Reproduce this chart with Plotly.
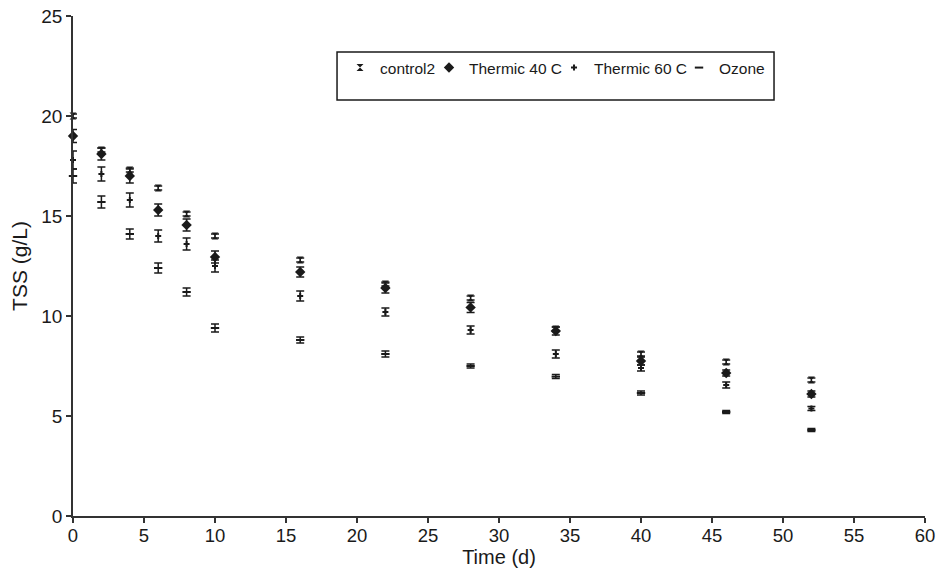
import plotly.graph_objects as go

# Sampling days
days = [0, 2, 4, 6, 8, 10, 16, 22, 28, 34, 40, 46, 52]

# Total suspended solids (g/L) per treatment, with standard deviations
control2 = [20.0, 18.3, 17.3, 16.4, 15.1, 14.0, 12.8, 11.6, 10.9, 9.35, 8.1, 7.7, 6.8]
control2_sd = [0.1, 0.1, 0.1, 0.1, 0.1, 0.1, 0.1, 0.1, 0.1, 0.1, 0.1, 0.1, 0.1]

thermic40 = [19.0, 18.1, 17.0, 15.3, 14.55, 12.95, 12.2, 11.4, 10.43, 9.25, 7.75, 7.15, 6.1]
thermic40_sd = [0.33, 0.3, 0.35, 0.3, 0.3, 0.3, 0.25, 0.25, 0.25, 0.2, 0.2, 0.15, 0.15]

thermic60 = [17.8, 17.1, 15.8, 14.0, 13.6, 12.5, 11.0, 10.2, 9.3, 8.1, 7.4, 6.55, 5.38]
thermic60_sd = [0.45, 0.35, 0.35, 0.3, 0.3, 0.3, 0.25, 0.2, 0.2, 0.2, 0.15, 0.15, 0.1]

ozone = [17.0, 15.7, 14.1, 12.4, 11.2, 9.4, 8.8, 8.1, 7.5, 6.97, 6.15, 5.2, 4.3]
ozone_sd = [0.35, 0.3, 0.25, 0.25, 0.2, 0.2, 0.15, 0.15, 0.1, 0.1, 0.1, 0.08, 0.08]

FONT = "Liberation Sans, Arial, sans-serif"
INK = "#1a1a1a"

# name, values, sd, marker style, legend entry width (px)
series = [
    ("control2", control2, control2_sd, dict(symbol="hourglass", size=7), 44),
    ("Thermic 40 C", thermic40, thermic40_sd, dict(symbol="diamond", size=8), 80),
    ("Thermic 60 C", thermic60, thermic60_sd, dict(symbol="cross", size=5), 80),
    ("Ozone", ozone, ozone_sd,
     dict(symbol="line-ew", size=6, line=dict(width=2, color=INK)), 46),
]

fig = go.Figure()
for name, vals, sd, mk, lw in series:
    fig.add_trace(go.Scatter(
        x=days, y=vals, name=name, mode="markers",
        marker=dict(color=INK, **mk),
        error_y=dict(type="data", array=sd, visible=True,
                     color=INK, thickness=1.5, width=4),
        cliponaxis=False,
        legendwidth=lw,
    ))

fig.update_layout(
    width=937, height=570,
    margin=dict(l=73, r=12, t=16, b=54, autoexpand=False),
    paper_bgcolor="white", plot_bgcolor="white",
    font=dict(family=FONT, color=INK, size=19),
    showlegend=True,
    legend=dict(
        orientation="h", x=0.3134, xanchor="left", y=0.93, yanchor="top",
        font=dict(family=FONT, size=15.5, color=INK),
        bgcolor="rgba(0,0,0,0)", itemwidth=30,
    ),
    shapes=[dict(
        type="rect", xref="paper", yref="paper",
        x0=0.3099, x1=0.8228, y0=0.832, y1=0.928,
        line=dict(color=INK, width=1.5), fillcolor="white", layer="above",
    )],
)

fig.update_xaxes(
    range=[0, 60], dtick=5, tick0=0, automargin=False,
    showline=True, linecolor="#333333", linewidth=1.5,
    ticks="outside", ticklen=5, tickcolor="#333333", tickwidth=1.5,
    ticklabelstandoff=-3,
    showgrid=False, zeroline=False,
    title=dict(text="Time (d)", font=dict(size=20), standoff=0),
    tickfont=dict(size=18.5),
)
fig.update_yaxes(
    range=[0, 25], dtick=5, tick0=0, automargin=False,
    showline=True, linecolor="#333333", linewidth=1.5,
    ticks="outside", ticklen=5, tickcolor="#333333", tickwidth=1.5,
    showgrid=False, zeroline=False,
    title=dict(text="TSS (g/L)", font=dict(size=21), standoff=8),
    tickfont=dict(size=19),
)

fig.write_html("out.html")
